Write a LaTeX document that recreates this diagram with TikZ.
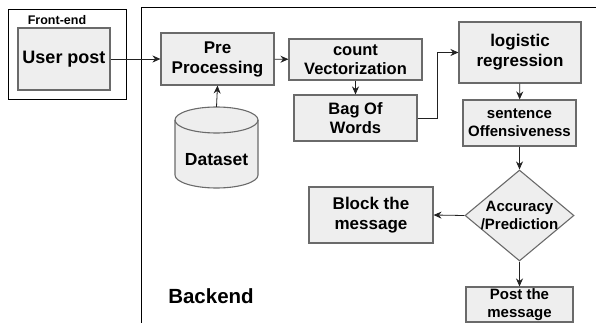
\documentclass[tikz,border=0pt]{standalone}
\usepackage{fontspec}
\setmainfont{Liberation Sans}
\usetikzlibrary{arrows.meta,shapes.geometric}

\definecolor{boxfill}{HTML}{EEEEEE}
\definecolor{boxline}{HTML}{6A6A6A}
\definecolor{wire}{HTML}{222222}

\tikzset{
  procbox/.style={draw=boxline, line width=1.1pt, fill=boxfill, align=center,
    inner sep=0pt},
  frame/.style={draw=black, line width=1pt},
  flow/.style={draw=wire, line width=0.8pt, -{Stealth[length=8pt,width=7pt]}},
  fs/.style={font=\fontsize{#1pt}{\dimexpr #1pt*118/100\relax}\selectfont\bfseries}
}

\begin{document}
\begin{tikzpicture}[x=1pt,y=-1pt]
\useasboundingbox (0,0) rectangle (596,323);

% outer frames
\draw[frame] (8,10) rectangle (126,100);
\node[fs=12.5] (felabel) at (57,20) {Front-end};
\draw[frame] (141,340) -- (141,8) -- (620,8);
\node[fs=20.5] (belabel) at (211,296) {Backend};

% process boxes
\node[procbox, fs=18, minimum width=92pt, minimum height=62pt] (user) at (64,59) {User post};
\node[procbox, fs=17, minimum width=113pt, minimum height=52pt] (pre) at (217.5,59) {Pre\\Processing};
\node[procbox, fs=16.5, minimum width=133pt, minimum height=41pt] (count) at (355.5,59.5) {count\\Vectorization};
\node[procbox, fs=16.5, minimum width=123pt, minimum height=46pt] (bag) at (355.5,118) {Bag Of\\Words};
\node[procbox, fs=17, minimum width=122pt, minimum height=61pt] (logit) at (520,52.5) {logistic\\regression};
\node[procbox, fs=15, minimum width=113pt, minimum height=46pt] (offense) at (519.5,123) {sentence\\Offensiveness};
\node[procbox, fs=17, minimum width=124pt, minimum height=56pt] (block) at (371,215) {Block the\\message};
\node[procbox, fs=15, minimum width=107pt, minimum height=35pt] (post) at (519.5,304.5) {Post the\\message};

% decision
\node[draw=boxline, line width=1.1pt, fill=boxfill, diamond, inner sep=0pt,
      minimum width=109pt, minimum height=91pt] (decide) at (519.5,215.5) {};
\node[fs=15, align=center] (decidetext) at (519.5,215.5) {Accuracy\\/Prediction};

% dataset cylinder
\node[minimum width=83pt, minimum height=81pt, inner sep=0pt] (dataset) at (216.5,147.5) {};
\path[draw=boxline, line width=1.1pt, fill=boxfill]
  (175,120) -- (175,175) arc[start angle=180, end angle=360, x radius=41.5pt, y radius=13pt]
  -- (258,120) arc[start angle=0, end angle=180, x radius=41.5pt, y radius=13pt] -- cycle;
\draw[boxline, line width=1.1pt]
  (175,120) arc[start angle=180, end angle=360, x radius=41.5pt, y radius=13pt];
\node[fs=17.5] (datatext) at (216.5,160) {Dataset};

% connectors
\draw[flow] (user) -- (pre);
\draw[flow] (pre) -- (count);
\draw[flow] (dataset.north) -- (pre.south);
\draw[flow] (count) -- (bag);
\draw[flow] (bag.east) -- ++(20,0) |- (logit.west);
\draw[flow] (logit) -- (offense);
\draw[flow] (offense) -- (decide.north);
\draw[flow] (decide.west) -- (block.east);
\draw[flow] (decide.south) -- (post.north);
\end{tikzpicture}
\end{document}
